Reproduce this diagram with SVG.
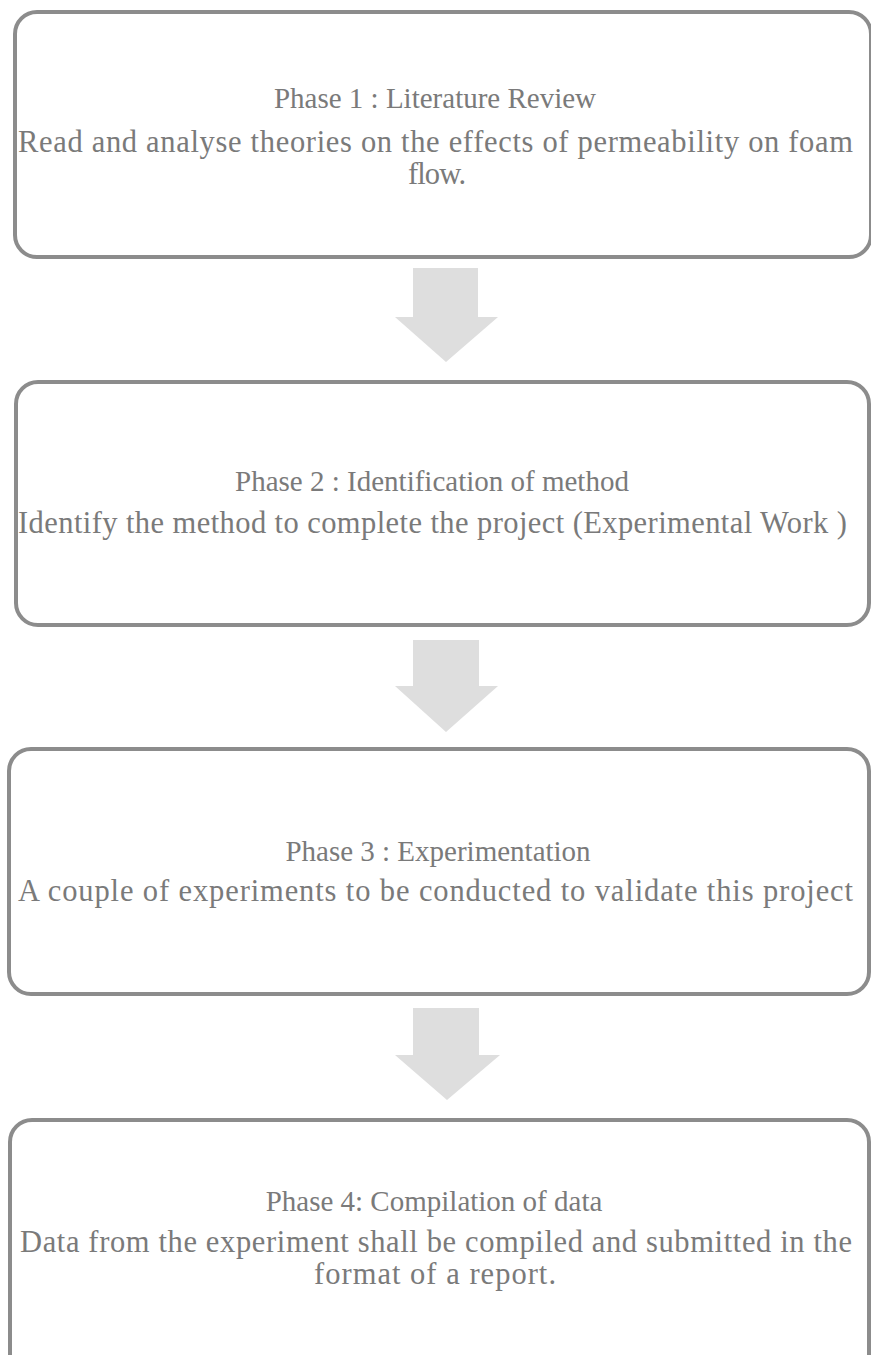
<svg xmlns="http://www.w3.org/2000/svg" width="871" height="1355" viewBox="0 0 871 1355">
  <style>
    .box { fill: #ffffff; stroke: #8c8c8c; stroke-width: 4; }
    .arrow { fill: #dedede; }
    .title { font-size: 29px; fill: #7a7a7a; text-anchor: middle; }
    .body { font-size: 30.5px; fill: #7a7a7a; text-anchor: middle; }
  </style>
  <rect width="871" height="1355" fill="#ffffff"/>

  <g id="connectors">
    <path class="arrow" d="M413,268 H478 V317 H498 L446,362 L395,317 H413 Z"/>
    <path class="arrow" d="M413,640 H479 V686 H498 L446,732 L395,686 H413 Z"/>
    <path class="arrow" d="M413,1008 H479 V1055 H500 L447,1100 L395,1055 H413 Z"/>
  </g>

  <g font-family="Liberation Serif, Times New Roman, serif">
    <g id="phase1">
      <rect class="box" x="15" y="12" width="856" height="245" rx="22"/>
      <text class="title" x="435" y="108">Phase 1 : Literature Review</text>
      <text class="body" x="435.5" y="152" textLength="835" lengthAdjust="spacing">Read and analyse theories on the effects of permeability on foam</text>
      <text class="body" x="437" y="184" textLength="58" lengthAdjust="spacing">flow.</text>
    </g>

    <g id="phase2">
      <rect class="box" x="16" y="382" width="853" height="243" rx="22"/>
      <text class="title" x="432" y="491">Phase 2 : Identification of method</text>
      <text class="body" x="432.5" y="533" textLength="829" lengthAdjust="spacing">Identify the method to complete the project (Experimental Work )</text>
    </g>

    <g id="phase3">
      <rect class="box" x="9" y="749" width="860" height="245" rx="22"/>
      <text class="title" x="438" y="861">Phase 3 : Experimentation</text>
      <text class="body" x="435.5" y="901" textLength="835" lengthAdjust="spacing">A couple of experiments to be conducted to validate this project</text>
    </g>

    <g id="phase4">
      <rect class="box" x="10" y="1120" width="859" height="260" rx="22"/>
      <text class="title" x="434" y="1211">Phase 4: Compilation of data</text>
      <text class="body" x="436" y="1252" textLength="832" lengthAdjust="spacing">Data from the experiment shall be compiled and submitted in the</text>
      <text class="body" x="435" y="1284" textLength="242" lengthAdjust="spacing">format of a report.</text>
    </g>
  </g>
</svg>
